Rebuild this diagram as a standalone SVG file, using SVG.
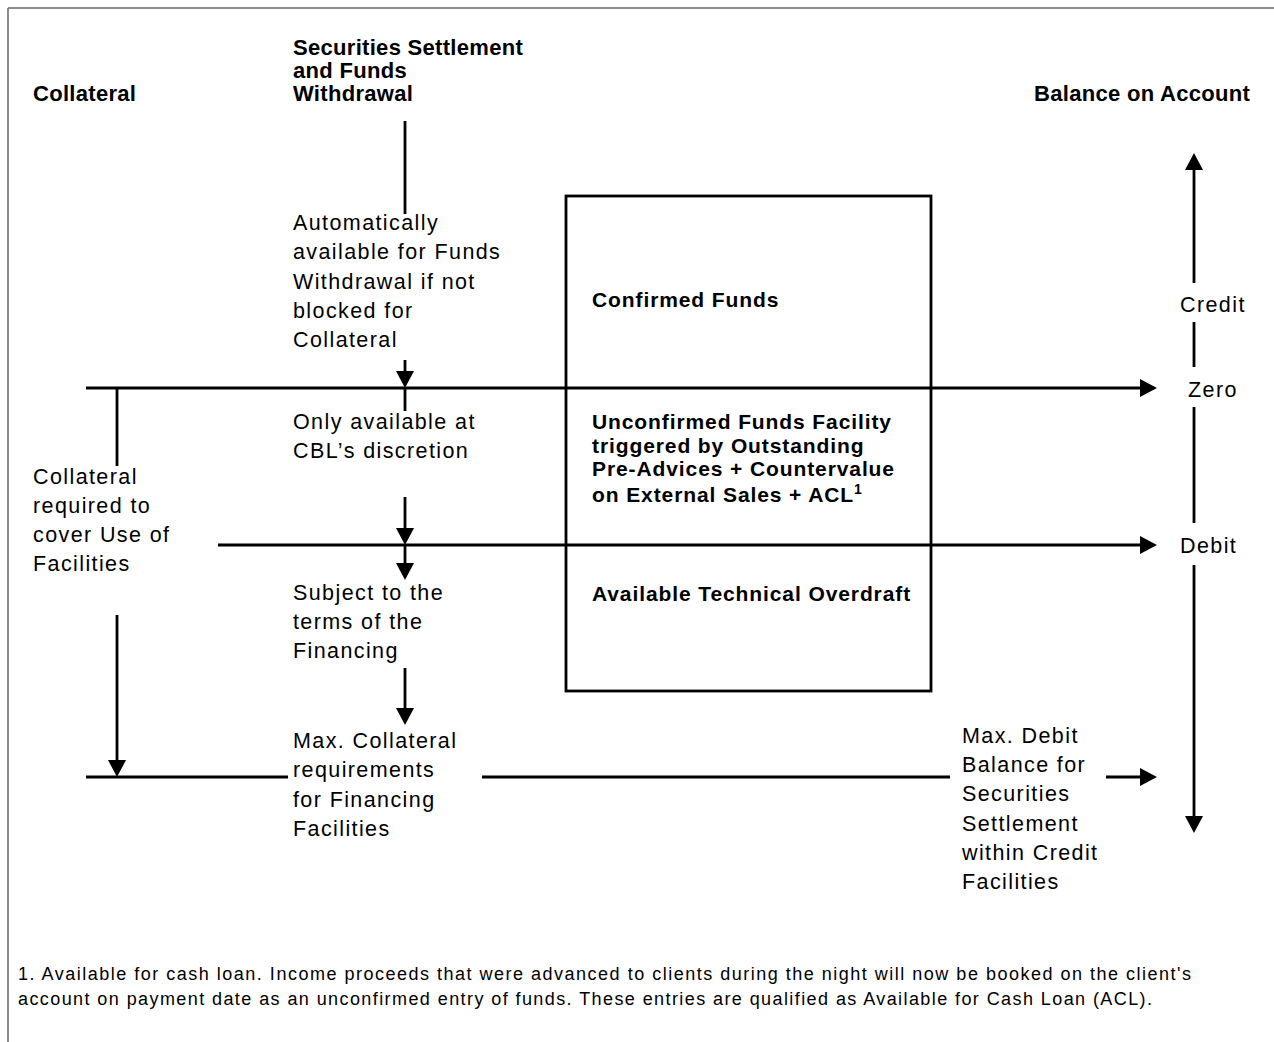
<svg xmlns="http://www.w3.org/2000/svg" width="1274" height="1042" viewBox="0 0 1274 1042">
<style>
  .b{font-family:"Liberation Sans",Arial,sans-serif;font-weight:bold;fill:#000}
  .h{font-size:22px;letter-spacing:0.3px}
  .bx{font-size:21px;letter-spacing:0.9px}
  .r{font-family:"Liberation Sans",Arial,sans-serif;font-size:21.5px;letter-spacing:1.4px;fill:#000}
  .fn{font-family:"Liberation Sans",Arial,sans-serif;font-size:18px;fill:#000}
  .c line,.c path{stroke:#000;stroke-width:2.8;fill:none}
</style>
<defs>
  <marker id="ah" viewBox="0 0 17 18" refX="0" refY="9" markerWidth="17" markerHeight="18" markerUnits="userSpaceOnUse" orient="auto">
    <path d="M0,0 L17,9 L0,18 Z" fill="#000"/>
  </marker>
</defs>
<rect width="1274" height="1042" fill="#fff"/>
<g id="frame">
  <line x1="8" y1="8" x2="1274" y2="8" stroke="#666" stroke-width="1.5"/>
  <line x1="8" y1="8" x2="8" y2="1042" stroke="#666" stroke-width="1.5"/>
</g>
<g id="box">
  <rect x="566" y="196" width="365" height="495" fill="none" stroke="#000" stroke-width="2.8"/>
</g>
<g class="c" id="connectors">
  <line x1="86" y1="388" x2="1140" y2="388" marker-end="url(#ah)"/>
  <line x1="218" y1="545" x2="1140" y2="545" marker-end="url(#ah)"/>
  <line x1="86" y1="777" x2="288" y2="777"/>
  <line x1="482" y1="777" x2="950" y2="777"/>
  <line x1="1106" y1="777" x2="1140" y2="777" marker-end="url(#ah)"/>
  <line x1="117" y1="388" x2="117" y2="466"/>
  <line x1="117" y1="615" x2="117" y2="760" marker-end="url(#ah)"/>
  <line x1="405" y1="121" x2="405" y2="214"/>
  <line x1="405" y1="360" x2="405" y2="371" marker-end="url(#ah)"/>
  <line x1="405" y1="388" x2="405" y2="411"/>
  <line x1="405" y1="497" x2="405" y2="528" marker-end="url(#ah)"/>
  <line x1="405" y1="545" x2="405" y2="563" marker-end="url(#ah)"/>
  <line x1="405" y1="668" x2="405" y2="708" marker-end="url(#ah)"/>
  <line x1="1194" y1="283" x2="1194" y2="170" marker-end="url(#ah)"/>
  <line x1="1194" y1="322" x2="1194" y2="367"/>
  <line x1="1194" y1="407" x2="1194" y2="523"/>
  <line x1="1194" y1="565" x2="1194" y2="816" marker-end="url(#ah)"/>
</g>
<g id="header-collateral"><text class="b h" x="33" y="101">Collateral</text></g>
<g id="header-settlement">
  <text class="b h" x="293" y="55">Securities Settlement</text>
  <text class="b h" x="293" y="78">and Funds</text>
  <text class="b h" x="293" y="101">Withdrawal</text>
</g>
<g id="header-balance"><text class="b h" x="1034" y="101">Balance on Account</text></g>
<g id="confirmed-funds"><text class="b bx" x="592" y="307">Confirmed Funds</text></g>
<g id="unconfirmed-funds">
  <text class="b bx" x="592" y="429">Unconfirmed Funds Facility</text>
  <text class="b bx" x="592" y="452.5">triggered by Outstanding</text>
  <text class="b bx" x="592" y="476">Pre-Advices + Countervalue</text>
  <text class="b bx" x="592" y="502">on External Sales + ACL<tspan font-size="14" dy="-8">1</tspan></text>
</g>
<g id="technical-overdraft"><text class="b bx" x="592" y="601">Available Technical Overdraft</text></g>
<g id="auto-available">
  <text class="r" x="293" y="230">Automatically</text>
  <text class="r" x="293" y="259">available for Funds</text>
  <text class="r" x="293" y="289">Withdrawal if not</text>
  <text class="r" x="293" y="318">blocked for</text>
  <text class="r" x="293" y="347">Collateral</text>
</g>
<g id="cbl-discretion">
  <text class="r" x="293" y="429">Only available at</text>
  <text class="r" x="293" y="458">CBL’s discretion</text>
</g>
<g id="collateral-required">
  <text class="r" x="33" y="484">Collateral</text>
  <text class="r" x="33" y="513">required to</text>
  <text class="r" x="33" y="542">cover Use of</text>
  <text class="r" x="33" y="571">Facilities</text>
</g>
<g id="subject-terms">
  <text class="r" x="293" y="600">Subject to the</text>
  <text class="r" x="293" y="629">terms of the</text>
  <text class="r" x="293" y="658">Financing</text>
</g>
<g id="max-collateral">
  <text class="r" x="293" y="748">Max. Collateral</text>
  <text class="r" x="293" y="777">requirements</text>
  <text class="r" x="293" y="807">for Financing</text>
  <text class="r" x="293" y="836">Facilities</text>
</g>
<g id="max-debit">
  <text class="r" x="962" y="743">Max. Debit</text>
  <text class="r" x="962" y="772">Balance for</text>
  <text class="r" x="962" y="801">Securities</text>
  <text class="r" x="962" y="831">Settlement</text>
  <text class="r" x="962" y="860">within Credit</text>
  <text class="r" x="962" y="889">Facilities</text>
</g>
<g id="axis-labels">
  <text class="r" x="1180" y="312">Credit</text>
  <text class="r" x="1188" y="397">Zero</text>
  <text class="r" x="1180" y="553">Debit</text>
</g>
<g id="footnote">
  <text class="fn" x="18" y="980" textLength="1173" lengthAdjust="spacing">1. Available for cash loan. Income proceeds that were advanced to clients during the night will now be booked on the client's</text>
  <text class="fn" x="18" y="1005" textLength="1134" lengthAdjust="spacing">account on payment date as an unconfirmed entry of funds. These entries are qualified as Available for Cash Loan (ACL).</text>
</g>
</svg>
